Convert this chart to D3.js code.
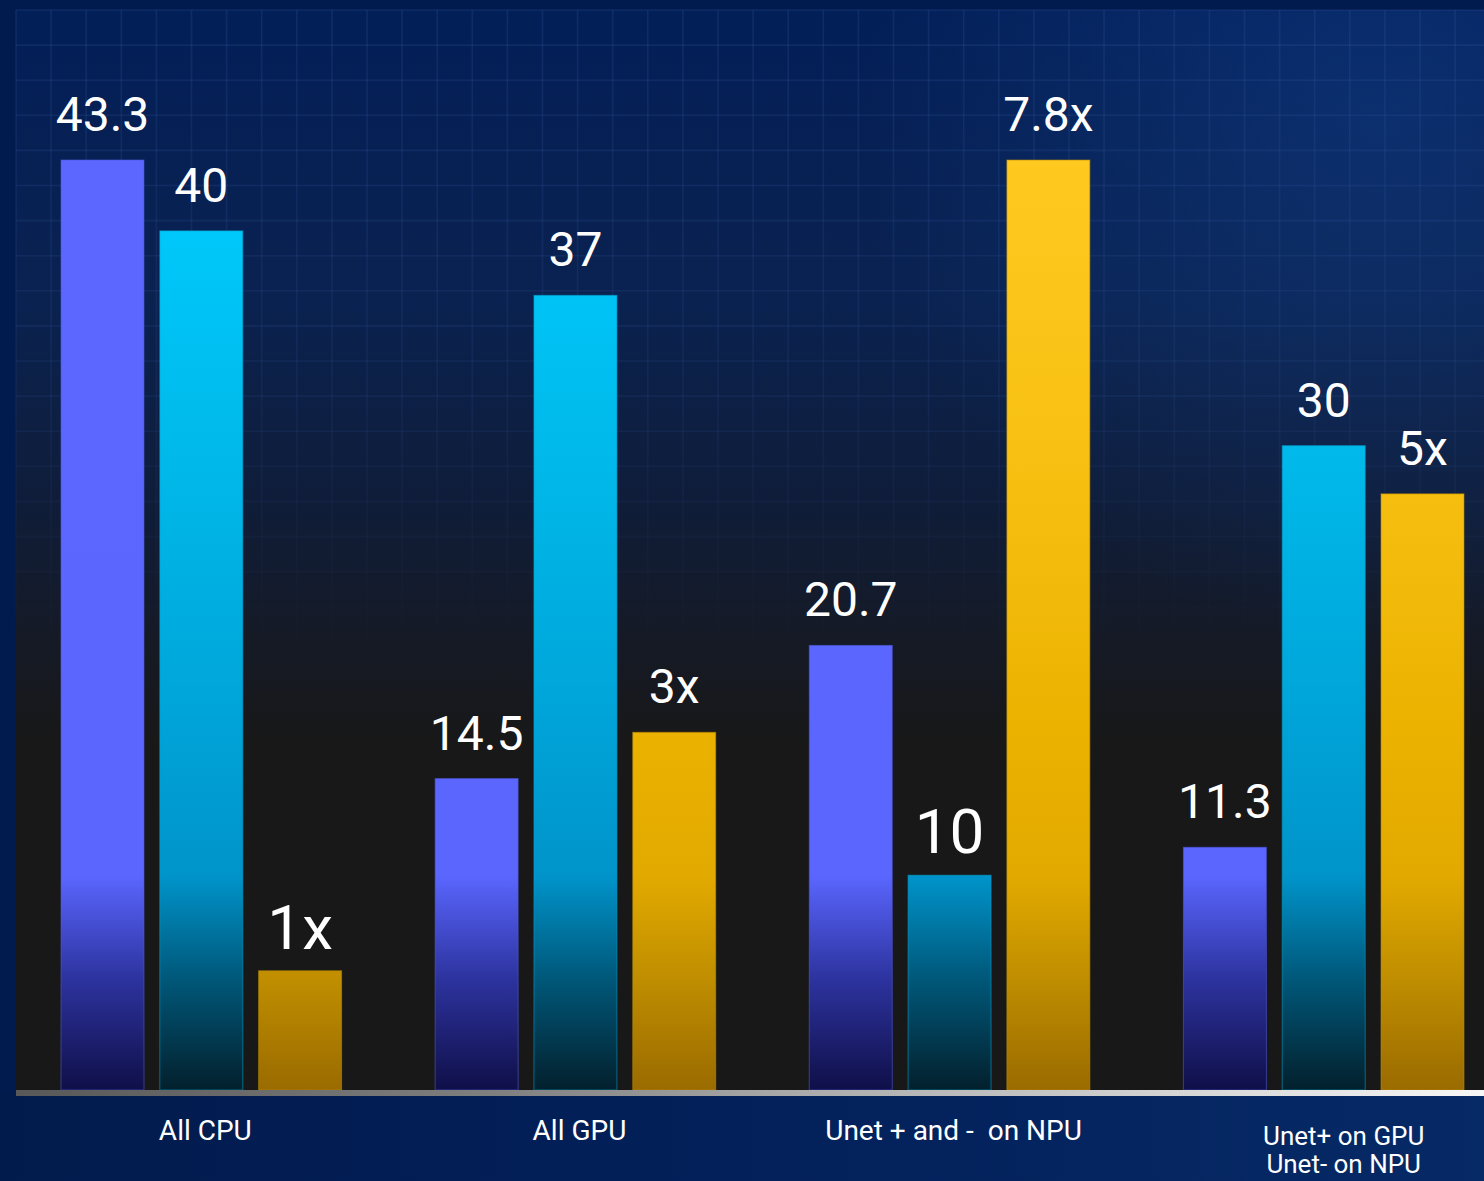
<!DOCTYPE html>
<html>
<head>
<meta charset="utf-8">
<script src="https://cdn.jsdelivr.net/npm/d3@7"></script>
<style>
  html, body { margin: 0; padding: 0; background: #021b4e; }
  svg { display: block; }
</style>
</head>
<body>
<svg id="chart" width="1484" height="1181"></svg>
<script>
// ---- data ----
const categories = ["All CPU", "All GPU", "Unet + and -  on NPU", "Unet+ on GPU\nUnet- on NPU"];
const seriesKeys = ["a", "b", "speedup"];
const seriesA = [43.3, 14.5, 20.7, 11.3];
const seriesB = [40, 37, 10, 30];
const speedup = [1, 3, 7.8, 5];

// ---- layout ----
const W = 1484, H = 1181;
const panel = { x0: 16, y0: 10, x1: 1484, y1: 1090 };
const plotLeft = 61, plotRight = 1464, yTop = 160;

const svg = d3.select("#chart");
const defs = svg.append("defs");

const x0 = d3.scaleBand().domain(categories).range([plotLeft, plotRight]).paddingInner(0.25).paddingOuter(0);
const x1 = d3.scaleBand().domain(seriesKeys).range([0, x0.bandwidth()]).paddingInner(0.16).paddingOuter(0);
const yMax = d3.max(seriesA.concat(seriesB));
const y = d3.scaleLinear().domain([0, yMax]).range([panel.y1, yTop]);
const y2 = d3.scaleLinear().domain([0, d3.max(speedup)]).range([panel.y1, yTop]);

// ---- gradients ----
function vGrad(id, ya, yb, stops) {
  const g = defs.append("linearGradient").attr("id", id)
    .attr("gradientUnits", "userSpaceOnUse")
    .attr("x1", 0).attr("x2", 0).attr("y1", ya).attr("y2", yb);
  stops.forEach(([o, c, op]) => g.append("stop").attr("offset", o).attr("stop-color", c).attr("stop-opacity", op == null ? 1 : op));
}
function hGrad(id, xa, xb, stops) {
  const g = defs.append("linearGradient").attr("id", id)
    .attr("gradientUnits", "userSpaceOnUse")
    .attr("x1", xa).attr("x2", xb).attr("y1", 0).attr("y2", 0);
  stops.forEach(([o, c, op]) => g.append("stop").attr("offset", o).attr("stop-color", c).attr("stop-opacity", op == null ? 1 : op));
}

vGrad("panelGrad", panel.y0, panel.y1, [
  [0, "#031f58"], [0.27, "#0a2250"], [0.45, "#0f1d3a"], [0.58, "#151a26"], [0.68, "#181818"], [1, "#181818"]
]);
vGrad("gridGrad", panel.y0, panel.y1, [
  [0, "#3a5fa8", 0.2], [0.35, "#3a5fa8", 0.13], [0.6, "#3a5fa8", 0.0], [1, "#3a5fa8", 0]
]);
hGrad("bottomGrad", 0, W, [[0, "#021b4d"], [0.5, "#03205a"], [1, "#062a66"]]);
hGrad("axisGrad", panel.x0, panel.x1, [[0, "#585858"], [0.33, "#808080"], [0.52, "#a8a8a8"], [1, "#f7f7f7"]]);

const rg = defs.append("radialGradient").attr("id", "glow")
  .attr("gradientUnits", "userSpaceOnUse").attr("cx", 1380).attr("cy", 120).attr("r", 520);
rg.append("stop").attr("offset", 0).attr("stop-color", "#1a52a8").attr("stop-opacity", 0.3);
rg.append("stop").attr("offset", 1).attr("stop-color", "#1a52a8").attr("stop-opacity", 0);

const barTopY = yTop, barBotY = panel.y1;
vGrad("gradA", barTopY, barBotY, [
  [0, "#5b67ff"], [0.77, "#5a66fe"], [0.88, "#2d339f"], [1, "#0f0f48"]
]);
vGrad("gradB", barTopY, barBotY, [
  [0, "#00ccff"], [0.32, "#00b9ea"], [0.55, "#00a8dc"], [0.77, "#0094ca"], [0.88, "#00587a"], [1, "#03202c"]
]);
vGrad("gradC", barTopY, barBotY, [
  [0, "#ffc920"], [0.36, "#f6bf10"], [0.61, "#ebb200"], [0.77, "#e2aa00"], [0.88, "#c08e00"], [1, "#9a6b00"]
]);
const fills = { a: "url(#gradA)", b: "url(#gradB)", speedup: "url(#gradC)" };
const edges = { a: "#4c57e0", b: "#009cc8", speedup: "#b88a00" };

// ---- background ----
svg.append("rect").attr("x", 0).attr("y", 0).attr("width", W).attr("height", H).attr("fill", "#021b4e");
svg.append("rect").attr("x", 0).attr("y", panel.y1).attr("width", W).attr("height", H - panel.y1).attr("fill", "url(#bottomGrad)");
svg.append("rect").attr("x", panel.x0).attr("y", panel.y0)
  .attr("width", panel.x1 - panel.x0).attr("height", panel.y1 - panel.y0).attr("fill", "url(#panelGrad)");
svg.append("rect").attr("x", panel.x0).attr("y", panel.y0)
  .attr("width", panel.x1 - panel.x0).attr("height", 700).attr("fill", "url(#glow)");

// grid
const cell = 35.1;
const grid = svg.append("g").attr("stroke", "url(#gridGrad)").attr("stroke-width", 1.6);
grid.selectAll("line.v").data(d3.range(panel.x0, panel.x1, cell)).join("line")
  .attr("x1", d => d).attr("x2", d => d).attr("y1", panel.y0).attr("y2", panel.y1);
grid.selectAll("line.h").data(d3.range(panel.y0, panel.y1, cell)).join("line")
  .attr("x1", panel.x0).attr("x2", panel.x1).attr("y1", d => d).attr("y2", d => d);

// ---- bars ----
const rows = categories.map((c, i) => ({
  cat: c,
  vals: [
    { key: "a", v: seriesA[i], scale: y, label: String(seriesA[i]) },
    { key: "b", v: seriesB[i], scale: y, label: String(seriesB[i]) },
    { key: "speedup", v: speedup[i], scale: y2, label: speedup[i] + "x" }
  ]
}));

const groups = svg.append("g").selectAll("g").data(rows).join("g")
  .attr("transform", d => `translate(${x0(d.cat)},0)`);

groups.selectAll("rect").data(d => d.vals).join("rect")
  .attr("x", d => x1(d.key))
  .attr("width", x1.bandwidth())
  .attr("y", d => d.scale(d.v))
  .attr("height", d => d.scale(0) - d.scale(d.v))
  .attr("fill", d => fills[d.key])
  .attr("stroke", d => edges[d.key]).attr("stroke-width", 1).attr("stroke-opacity", 0.6);

const bigLabels = new Set(["1x", "10"]);
groups.selectAll("text").data(d => d.vals).join("text")
  .attr("x", d => x1(d.key) + x1.bandwidth() / 2)
  .attr("y", d => d.scale(d.v) - (bigLabels.has(d.label) ? 22 : 29))
  .attr("text-anchor", "middle")
  .attr("fill", "#ffffff")
  .attr("font-family", "Roboto, 'Open Sans', sans-serif")
  .attr("font-size", d => bigLabels.has(d.label) ? 62 : 48)
  .text(d => d.label);

// ---- axis line ----
svg.append("rect").attr("x", panel.x0).attr("y", panel.y1).attr("width", panel.x1 - panel.x0).attr("height", 6)
  .attr("fill", "url(#axisGrad)");

// ---- category labels ----
const catG = svg.append("g").attr("fill", "#ffffff")
  .attr("font-family", "Roboto, 'Open Sans', sans-serif");
categories.forEach((c, i) => {
  const lines = c.split("\n");
  const multi = lines.length > 1;
  const cx = x0(c) + x0.bandwidth() / 2 + (multi ? 20 : 4);
  const t = catG.append("text").attr("text-anchor", "middle").attr("xml:space", "preserve")
    .attr("font-size", multi ? 26 : 28)
    .attr("x", cx).attr("y", multi ? 1145 : 1140);
  lines.forEach((l, j) => t.append("tspan").attr("x", cx).attr("dy", j === 0 ? 0 : 28).text(l));
});
</script>
</body>
</html>
